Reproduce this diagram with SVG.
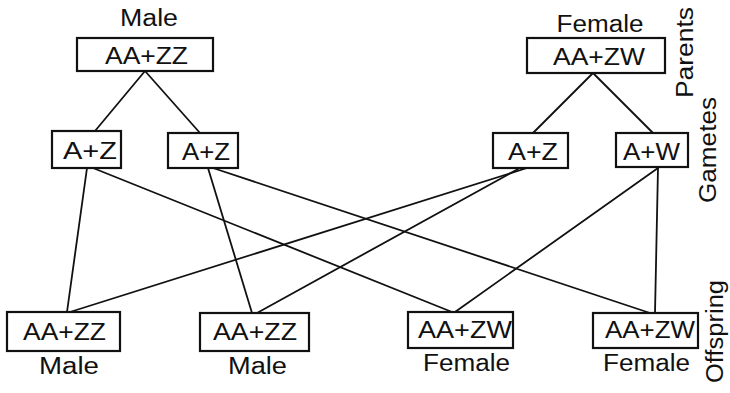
<svg xmlns="http://www.w3.org/2000/svg" width="730" height="393" viewBox="0 0 730 393">
<style>
.bg{fill:#ffffff}
.box{fill:#ffffff;stroke:#111111;stroke-width:2.2}
.t{font-family:"Liberation Sans","DejaVu Sans",Arial,sans-serif;font-size:23px;fill:#111111;text-anchor:middle}
.c line{stroke:#111111;stroke-width:1.8;stroke-linecap:round}
</style>
<rect class="bg" x="0" y="0" width="730" height="393"/>
<g id="connectors" class="c">
<line x1="145" y1="71" x2="95" y2="131"/>
<line x1="145" y1="71" x2="200" y2="133"/>
<line x1="593" y1="73" x2="533" y2="133"/>
<line x1="593" y1="73" x2="653" y2="133"/>
<line x1="87" y1="168" x2="67" y2="312"/>
<line x1="93" y1="168" x2="452" y2="312"/>
<line x1="208" y1="168" x2="252" y2="313"/>
<line x1="213" y1="168" x2="650" y2="313"/>
<line x1="527" y1="168" x2="70" y2="312"/>
<line x1="518" y1="169" x2="257" y2="313"/>
<line x1="658" y1="168" x2="455" y2="312"/>
<line x1="658" y1="168" x2="655" y2="313"/>
</g>
<g id="parent-male">
<text class="t" x="149" y="26" textLength="58" lengthAdjust="spacingAndGlyphs">Male</text>
<rect class="box" x="77" y="38" width="136" height="33"/>
<text class="t" x="146.5" y="64" textLength="83" lengthAdjust="spacingAndGlyphs">AA+ZZ</text>
</g>
<g id="parent-female">
<text class="t" x="600" y="32" textLength="87" lengthAdjust="spacingAndGlyphs">Female</text>
<rect class="box" x="527" y="38" width="138" height="35"/>
<text class="t" x="599" y="65" textLength="92" lengthAdjust="spacingAndGlyphs">AA+ZW</text>
</g>
<g id="gamete-m1">
<rect class="box" x="52" y="131" width="69" height="37"/>
<text class="t" x="90" y="159" textLength="54" lengthAdjust="spacingAndGlyphs">A+Z</text>
</g>
<g id="gamete-m2">
<rect class="box" x="168" y="133" width="70" height="35"/>
<text class="t" x="206" y="160" textLength="48" lengthAdjust="spacingAndGlyphs">A+Z</text>
</g>
<g id="gamete-f1">
<rect class="box" x="493" y="133" width="75" height="35"/>
<text class="t" x="533" y="160" textLength="50" lengthAdjust="spacingAndGlyphs">A+Z</text>
</g>
<g id="gamete-f2">
<rect class="box" x="616" y="133" width="72" height="34"/>
<text class="t" x="651.5" y="160" textLength="57" lengthAdjust="spacingAndGlyphs">A+W</text>
</g>
<g id="offspring-1">
<rect class="box" x="7" y="312" width="113" height="39"/>
<text class="t" x="64.5" y="340" textLength="83" lengthAdjust="spacingAndGlyphs">AA+ZZ</text>
<text class="t" x="69" y="374" textLength="60" lengthAdjust="spacingAndGlyphs">Male</text>
</g>
<g id="offspring-2">
<rect class="box" x="200" y="313" width="109" height="38"/>
<text class="t" x="255" y="340" textLength="84" lengthAdjust="spacingAndGlyphs">AA+ZZ</text>
<text class="t" x="257.5" y="374" textLength="59" lengthAdjust="spacingAndGlyphs">Male</text>
</g>
<g id="offspring-3">
<rect class="box" x="408" y="312" width="105" height="36"/>
<text class="t" x="465" y="338" textLength="94" lengthAdjust="spacingAndGlyphs">AA+ZW</text>
<text class="t" x="466.5" y="371" textLength="87" lengthAdjust="spacingAndGlyphs">Female</text>
</g>
<g id="offspring-4">
<rect class="box" x="593" y="313" width="105" height="35"/>
<text class="t" x="650" y="338" textLength="90" lengthAdjust="spacingAndGlyphs">AA+ZW</text>
<text class="t" x="646.5" y="371" textLength="87" lengthAdjust="spacingAndGlyphs">Female</text>
</g>
<g id="side-labels">
<text class="t" transform="translate(693,52.5) rotate(-90)" textLength="91" lengthAdjust="spacingAndGlyphs">Parents</text>
<text class="t" transform="translate(716,150) rotate(-90)" textLength="106" lengthAdjust="spacingAndGlyphs">Gametes</text>
<text class="t" transform="translate(723,331.5) rotate(-90)" textLength="103" lengthAdjust="spacingAndGlyphs">Offspring</text>
</g>
</svg>
